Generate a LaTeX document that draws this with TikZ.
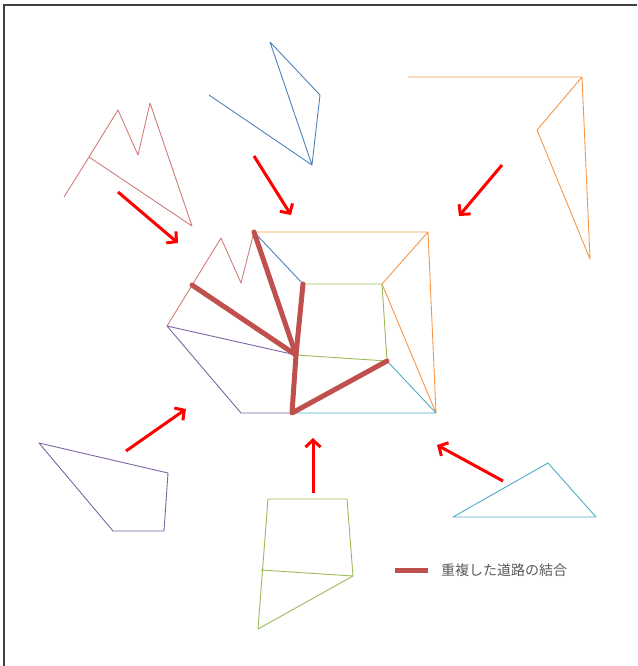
\documentclass[tikz,border=0pt]{standalone}
\usepackage{fontspec}
\newfontfamily\jpfont{Noto Sans CJK JP}
\usetikzlibrary{arrows.meta}
\definecolor{roadred}{HTML}{C0504D}
\definecolor{roadblue}{HTML}{4F81BD}
\definecolor{roadorange}{HTML}{F79646}
\definecolor{roadgreen}{HTML}{9BBB59}
\definecolor{roadpurple}{HTML}{8064A2}
\definecolor{roadcyan}{HTML}{4BACC6}

\tikzset{
  road/.style={line width=0.9pt, line join=round},
  merged/.style={line width=5pt, roadred, line cap=round, line join=round},
  move/.style={line width=3pt, red, -{Straight Barb[length=7pt,width=15pt]}}
}

\begin{document}
\begin{tikzpicture}[x=1pt, y=-1pt]
  \useasboundingbox (0,0) rectangle (637,666);
  % frame
  \draw[line width=1.2pt, black!75] (4,666) -- (4,5) -- (637,5);

  % separate pieces
  \draw[road, roadred!75] (64,197) -- (89,157) -- (118,110) -- (138,155) -- (150,103) -- (192,226) -- (89,157);
  \draw[road, roadblue] (209,95) -- (312,165) -- (270,42) -- (320,95) -- (312,165);
  \draw[road, roadorange] (408,77) -- (582,77) -- (537,130) -- (590,259) -- (582,77);
  \draw[road, roadpurple] (39,443) -- (168,473) -- (164,531) -- (113,531) -- cycle;
  \draw[road, roadgreen] (268,499) -- (347,499) -- (353,576) -- (261,570);
  \draw[road, roadgreen] (268,499) -- (258,629) -- (353,576);
  \draw[road, roadcyan] (453,517) -- (548,463) -- (596,517) -- cycle;

  % assembled map
  \coordinate (tl) at (254,232);
  \coordinate (tr) at (428,232);
  \coordinate (sqne) at (382,284);
  \coordinate (br) at (436,413);
  \coordinate (sqnw) at (303,284);
  \coordinate (sqse) at (387,361);
  \coordinate (hub) at (296,355);
  \coordinate (bot) at (292,413);
  \coordinate (bl) at (241,413);
  \coordinate (west) at (167,326);
  \coordinate (peak) at (221,238);
  \coordinate (dip) at (241,283);
  \coordinate (fork) at (192,285);

  \draw[road, roadorange] (tl) -- (tr) -- (br) -- (sqne) -- (tr);
  \draw[road, roadblue] (tl) -- (sqnw);
  \draw[road, roadgreen] (sqnw) -- (sqne) -- (sqse) -- (hub);
  \draw[road, roadred!75] (west) -- (peak) -- (dip) -- (tl);
  \draw[road, roadpurple] (hub) -- (west) -- (bl) -- (bot);
  \draw[road, roadcyan] (bot) -- (br) (sqse) -- (br);

  \draw[merged] (fork) -- (hub);
  \draw[merged] (tl) -- (hub);
  \draw[merged] (sqnw) -- (hub) -- (bot) -- (sqse);

  % arrows
  \draw[move] (118,192) -- (178,243);
  \draw[move] (254,156) -- (291,215);
  \draw[move] (502,165) -- (459,216);
  \draw[move] (126,451) -- (186,409);
  \draw[move] (313,493) -- (313,438);
  \draw[move] (503,481) -- (437,445);

  % legend
  \node[anchor=west, inner sep=0pt, text=black!65, font=\jpfont\fontsize{14}{16}\selectfont] (legtext) at (441,570) {重複した道路の結合};
  \draw[merged, line cap=butt] (395,570) -- (428,570);
\end{tikzpicture}
\end{document}
